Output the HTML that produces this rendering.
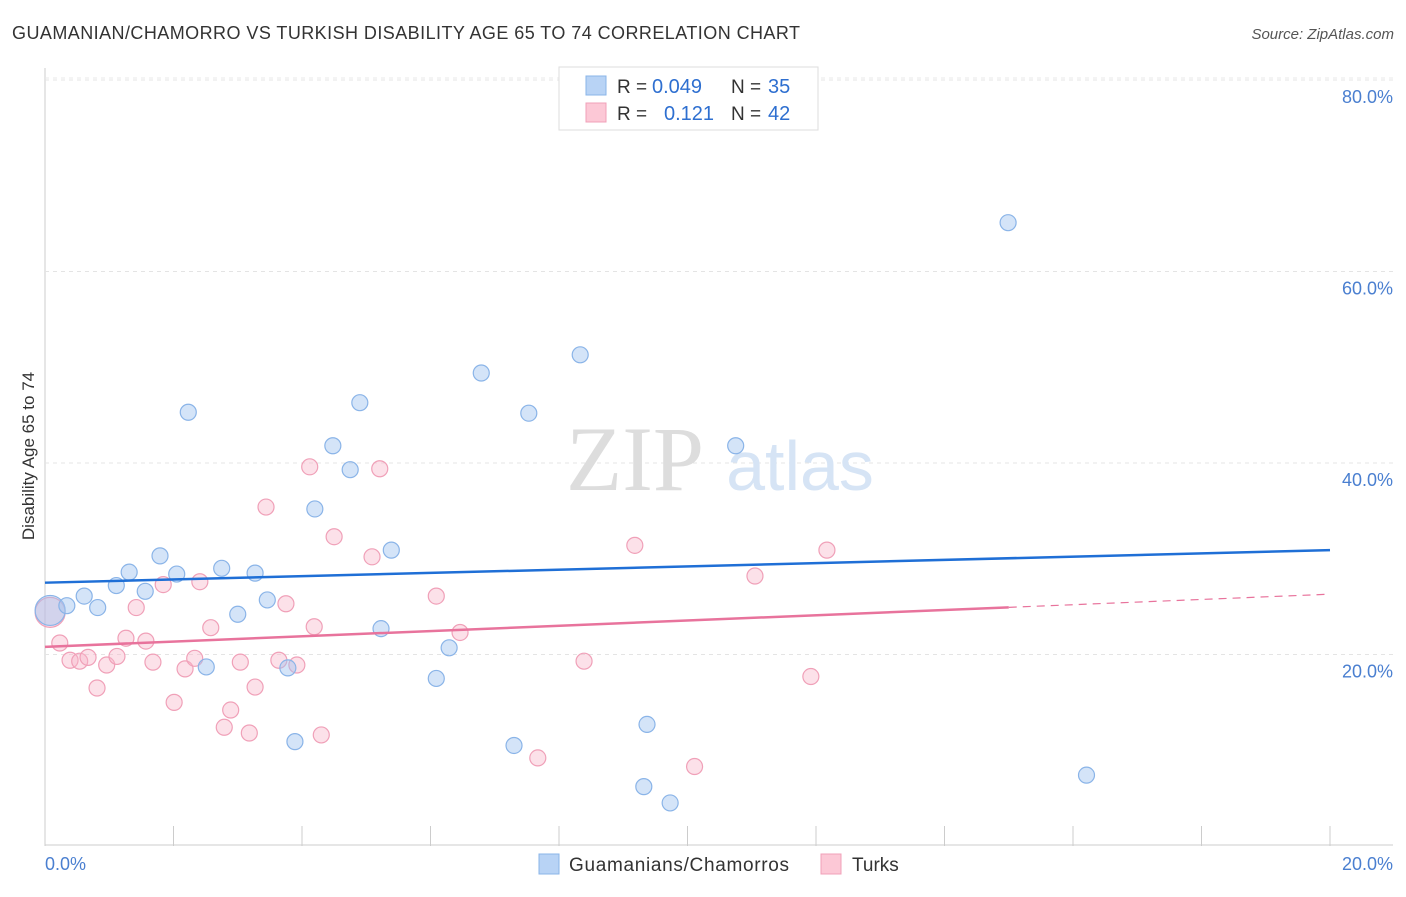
<!DOCTYPE html>
<html><head><meta charset="utf-8"><style>
body{margin:0;background:#fff;font-family:"Liberation Sans",sans-serif}
</style></head><body>
<svg id="c" width="1406" height="892" xmlns="http://www.w3.org/2000/svg">
<text x="12" y="39" font-size="18" fill="#333" textLength="788">GUAMANIAN/CHAMORRO VS TURKISH DISABILITY AGE 65 TO 74 CORRELATION CHART</text>
<text x="1394" y="39" font-size="15" fill="#555" font-style="italic" text-anchor="end">Source: ZipAtlas.com</text>
<text x="34" y="456" font-size="17" fill="#333" text-anchor="middle" transform="rotate(-90 34 456)">Disability Age 65 to 74</text>
<g id="grid"></g>
<g><text x="635" y="490" font-size="92" fill="#ddd" font-family="Liberation Serif" text-anchor="middle">ZIP</text><text x="800" y="490" font-size="70" fill="#d6e4f5" text-anchor="middle">atlas</text></g>
<g id="marks"></g>
<g>
<rect x="559" y="67" width="259" height="63" fill="#fff" stroke="#ddd"/>
<rect x="586" y="76" width="20" height="19" fill="#b8d3f5" stroke="#8ab4e8"/>
<rect x="586" y="103" width="20" height="19" fill="#fcc8d6" stroke="#f0a0b8"/>
<text x="617" y="93" font-size="19" fill="#333">R =</text>
<text x="652" y="93" font-size="20" fill="#2e6fd0">0.049</text>
<text x="731" y="93" font-size="19" fill="#333">N =</text>
<text x="768" y="93" font-size="20" fill="#2e6fd0">35</text>
<text x="617" y="120" font-size="19" fill="#333">R =</text>
<text x="664" y="120" font-size="20" fill="#2e6fd0">0.121</text>
<text x="731" y="120" font-size="19" fill="#333">N =</text>
<text x="768" y="120" font-size="20" fill="#2e6fd0">42</text>
</g>
<g>
<rect x="539" y="854" width="20" height="20" fill="#b8d3f5" stroke="#8ab4e8"/>
<text x="569" y="871" font-size="19" fill="#333" textLength="220">Guamanians/Chamorros</text>
<rect x="821" y="854" width="20" height="20" fill="#fcc8d6" stroke="#f0a0b8"/>
<text x="852" y="871" font-size="19" fill="#333">Turks</text>
</g>
</svg>
<script>
const yTicks=[20,40,60,80];
const yTickLabels=["20.0%","40.0%","60.0%","80.0%"];
const xTickLabels=["0.0%","20.0%"];
const blueX=[0.08,0.34,0.61,0.82,1.11,1.31,1.56,1.79,2.05,2.23,2.51,2.75,3.00,3.27,3.46,3.78,3.89,4.20,4.48,4.75,4.90,5.23,5.39,6.09,6.29,6.79,7.30,7.53,8.33,9.32,9.37,9.73,10.75,14.99,16.21];
const blueY=[24.6,25.1,26.1,24.9,27.2,28.6,26.6,30.3,28.4,45.3,18.7,29.0,24.2,28.5,25.7,18.6,10.9,35.2,41.8,39.3,46.3,22.7,30.9,17.5,20.7,49.4,10.5,45.2,51.3,6.2,12.7,4.5,41.8,65.1,7.4];
const pinkX=[0.08,0.23,0.39,0.54,0.67,0.81,0.96,1.12,1.26,1.42,1.57,1.68,1.84,2.01,2.18,2.33,2.41,2.58,2.79,2.89,3.04,3.18,3.27,3.44,3.64,3.75,3.92,4.12,4.19,4.30,4.50,5.09,5.21,6.09,6.46,7.67,8.39,9.18,10.11,11.05,11.92,12.17];
const pinkY=[24.4,21.2,19.4,19.3,19.7,16.5,18.9,19.8,21.7,24.9,21.4,19.2,27.3,15.0,18.5,19.6,27.6,22.8,12.4,14.2,19.2,11.8,16.6,35.4,19.4,25.3,18.9,39.6,22.9,11.6,32.3,30.2,39.4,26.1,22.3,9.2,19.3,31.4,8.3,28.2,17.7,30.9];
const blueTrend=[27.5,30.9];
const pinkTrend=[20.8,26.3];
const NS="http://www.w3.org/2000/svg";
const X=v=>45+v/20*1285, Y=v=>846-v*9.575;
function mk(t,a,p){const e=document.createElementNS(NS,t);for(const k in a)e.setAttribute(k,a[k]);p.appendChild(e);return e;}
const g=document.getElementById('grid'),m=document.getElementById('marks');
let ax=mk('line',{x1:45,y1:68,x2:45,y2:846,stroke:'#ccc'},g);


let bx=mk('line',{x1:45,y1:845,x2:1393,y2:845,stroke:'#ccc'},g);


mk('line',{x1:45,y1:78,x2:1393,y2:78,stroke:'#e8e8e8','stroke-dasharray':'4 4'},g);
yTicks.forEach((t,i)=>{
 const l=mk('line',{x1:45,y1:Y(t),x2:1393,y2:Y(t),stroke:'#e4e4e4','stroke-dasharray':'4 4'},g);
 
 
 const tx=mk('text',{x:1393,y:Y(t)+23,'font-size':18,fill:'#4a7fd0','text-anchor':'end'},g);
 tx.textContent=yTickLabels[i];
 
 
});
for(let i=0;i<=10;i++){
 const l=mk('line',{x1:X(i*2),y1:826,x2:X(i*2),y2:846,stroke:'#ccc'},g);
 
 
}
[[0,'start',45],[1,'end',1393]].forEach(([i,a,x])=>{
 const t=mk('text',{x:x,y:870,'font-size':18,fill:'#4a7fd0','text-anchor':a},g);
 t.textContent=xTickLabels[i];
 
 
});
function pts(xs,ys,fill,stroke,name){
 xs.forEach((x,i)=>{
  const c=mk('circle',{cx:X(x),cy:Y(ys[i]),r:i==0?15:8,fill:fill,stroke:stroke,'stroke-width':1.2},m);
  
  
 });
}
pts(pinkX,pinkY,'rgba(248,180,200,0.4)','#f0a0b8','turks-point');
pts(blueX,blueY,'rgba(160,196,240,0.45)','#8ab4e8','guamanian-point');
let bl=mk('line',{x1:X(0),y1:Y(blueTrend[0]),x2:X(20),y2:Y(blueTrend[1]),stroke:'#1f6fd6','stroke-width':2.5},m);


const pm=pinkTrend[0]+(pinkTrend[1]-pinkTrend[0])*0.75;
let pl=mk('line',{x1:X(0),y1:Y(pinkTrend[0]),x2:X(15),y2:Y(pm),stroke:'#e8739c','stroke-width':2.5},m);


let pd=mk('line',{x1:X(15),y1:Y(pm),x2:X(20),y2:Y(pinkTrend[1]),stroke:'#e8739c','stroke-width':1.2,'stroke-dasharray':'8 6'},m);


</script>
</body></html>
